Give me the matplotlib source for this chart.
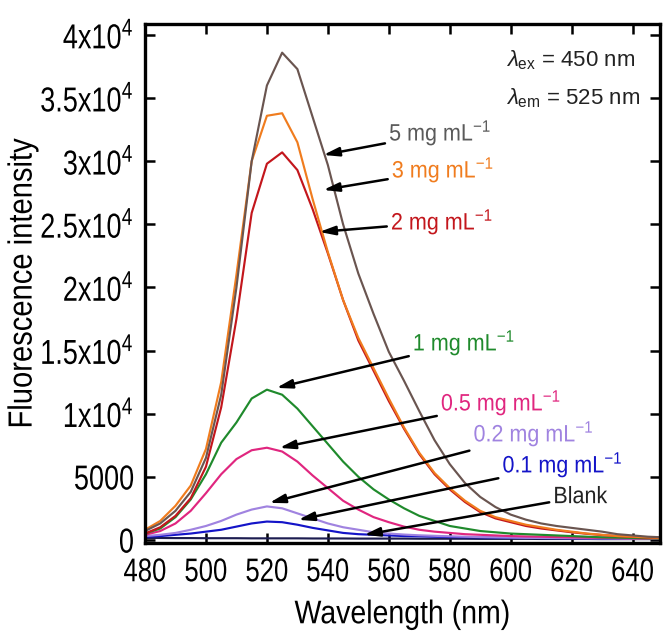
import numpy as np
import matplotlib
matplotlib.use('Agg')
import matplotlib.pyplot as plt
from matplotlib.patheffects import AbstractPathEffect
from matplotlib.transforms import Affine2D

plt.rcParams['font.family'] = ['Liberation Sans', 'DejaVu Sans']
plt.rcParams['mathtext.fontset'] = 'custom'
plt.rcParams['mathtext.rm'] = 'Liberation Sans'
plt.rcParams['mathtext.it'] = 'Liberation Sans:italic'
plt.rcParams['mathtext.bf'] = 'Liberation Sans:bold'


class Tall(AbstractPathEffect):
    """Stretch glyphs along the text's own vertical, about mid cap height."""
    def __init__(self, sy):
        super().__init__()
        self.sy = sy

    def draw_path(self, renderer, gc, tpath, affine, rgbFace=None):
        st = Affine2D().translate(0, -36).scale(1, self.sy).translate(0, 36) + affine
        renderer.draw_path(gc, tpath, st, rgbFace)


# emission spectra, 480-650 nm in 5 nm steps
wavelength = np.arange(480, 651, 5)

conc5 = [700, 1300, 2300, 3800, 6500, 11500, 20000, 30000, 36000, 38600,
         37300, 33500, 29700, 25000, 21100, 17900, 14900, 12600, 10200, 7900,
         6000, 4500, 3400, 2600, 2000, 1600, 1300, 1100, 950, 800,
         650, 450, 350, 250, 200]
conc3 = [800, 1500, 2700, 4300, 7200, 12500, 21000, 30000, 33600, 33800,
         31500, 27000, 22800, 19000, 16000, 13600, 11200, 8900, 6900, 5300,
         4100, 3100, 2300, 1800, 1500, 1200, 1000, 800, 650, 500,
         400, 300, 250, 200, 150]
conc2 = [500, 1000, 1900, 3300, 5800, 10500, 17500, 25900, 29800, 30700,
         29300, 26200, 22700, 19000, 15800, 13400, 11000, 8800, 6800, 5200,
         4000, 3000, 2200, 1700, 1400, 1100, 900, 750, 600, 480,
         380, 300, 230, 180, 150]
conc1 = [500, 900, 1800, 3200, 5200, 7700, 9300, 11200, 11900, 11500,
         10400, 9000, 7600, 6200, 5000, 4000, 3200, 2500, 1900, 1500,
         1100, 900, 700, 600, 500, 450, 400, 350, 300, 250,
         200, 180, 150, 120, 100]
conc05 = [400, 700, 1300, 2300, 3700, 5200, 6400, 7100, 7300, 7000,
          6200, 5100, 4100, 3100, 2400, 1800, 1400, 1050, 800, 650,
          550, 450, 400, 350, 300, 270, 250, 220, 200, 180,
          160, 140, 120, 100, 90]
conc02 = [300, 400, 550, 800, 1100, 1500, 2000, 2400, 2650, 2500,
          2100, 1700, 1300, 1000, 800, 600, 500, 420, 360, 320,
          280, 250, 220, 200, 180, 160, 150, 140, 130, 120,
          110, 100, 90, 80, 80]
conc01 = [250, 300, 400, 500, 650, 800, 1050, 1300, 1450, 1400,
          1200, 950, 750, 550, 450, 400, 350, 300, 280, 250,
          230, 210, 200, 180, 170, 160, 150, 140, 130, 120,
          110, 100, 90, 80, 70]
blank = [150, 150, 140, 140, 130, 130, 130, 120, 120, 120,
         120, 110, 110, 110, 100, 100, 100, 100, 90, 90,
         90, 90, 80, 80, 80, 80, 70, 70, 70, 70,
         60, 60, 60, 60, 60]

series = [blank, conc01, conc02, conc05, conc1, conc2, conc3, conc5]
labels = ['Blank', '0.1 mg mL$^{-1}$', '0.2 mg mL$^{-1}$', '0.5 mg mL$^{-1}$',
          '1 mg mL$^{-1}$', '2 mg mL$^{-1}$', '3 mg mL$^{-1}$', '5 mg mL$^{-1}$']
colors = ['#1c1c50', '#1414c8', '#a083e0', '#e0267f',
          '#1f8a2c', '#c3161c', '#f07c1e', '#6a5550']
text_colors = ['#222222', '#1414c8', '#a083e0', '#e0267f',
               '#1f8a2c', '#c3161c', '#f07c1e', '#5a5a5a']

yticks = [0, 5000, 10000, 15000, 20000, 25000, 30000, 35000, 40000]
ylabels = ['0', '5000', '1x10$^{4}$', '1.5x10$^{4}$', '2x10$^{4}$',
           '2.5x10$^{4}$', '3x10$^{4}$', '3.5x10$^{4}$', '4x10$^{4}$']
xticks = [480, 500, 520, 540, 560, 580, 600, 620, 640]

fig = plt.figure(figsize=(6.64, 6.32), dpi=100)
ax = fig.add_axes([0.2184, 0.1408, 0.7756, 0.8212])

for y, c in zip(series, colors):
    ax.plot(wavelength, y, color=c, lw=1.55)

# label text (left edge, centre) and arrow tip for each curve
text_pos = [(614.0, 3406), (597.3, 5941), (587.8, 8396), (577.1, 10851),
            (567.9, 15604), (560.7, 25188), (561.0, 29307), (560.1, 32238)]
tips = [(551.9, 396), (530.3, 1584), (520.8, 2931), (524.1, 7287),
        (523.1, 12040), (537.2, 24396), (538.5, 27723), (538.5, 30495)]
for lab, tc, tp, tip in zip(labels, text_colors, text_pos, tips):
    ax.annotate(lab, xy=tip, xytext=tp, color=tc, fontsize=15.5,
                ha='left', va='center', path_effects=[Tall(1.1)],
                arrowprops=dict(arrowstyle='-|>,head_length=0.6,head_width=0.17',
                                color='k', lw=1.8, shrinkA=1, shrinkB=0))

ax.text(598.3, 38020, r'$\lambda_{\mathregular{ex}}$ = 450 nm', fontsize=16,
        ha='left', va='center', color='#222222')
ax.text(598.3, 35010, r'$\lambda_{\mathregular{em}}$ = 525 nm', fontsize=16,
        ha='left', va='center', color='#222222')

ax.set_xlim(480, 649)
ax.set_ylim(-250, 40870)
ax.set_xticks(xticks)
ax.set_yticks(yticks)
ax.set_yticklabels(ylabels)
ax.tick_params(direction='in', length=7, width=1.8, top=True, right=True)
ax.tick_params(axis='x', pad=12, labelsize=18.5)
ax.tick_params(axis='y', pad=8, labelsize=19.5)
for lab in ax.get_xticklabels() + ax.get_yticklabels():
    lab.set_path_effects([Tall(1.28)])
for s in ax.spines.values():
    s.set_linewidth(2.4)

ax.set_xlabel('Wavelength (nm)', fontsize=20.5, labelpad=13,
              path_effects=[Tall(1.15)])
ax.set_ylabel('Fluorescence intensity', fontsize=21, labelpad=3,
              path_effects=[Tall(1.15)])

fig.savefig('out.png', dpi=100)
